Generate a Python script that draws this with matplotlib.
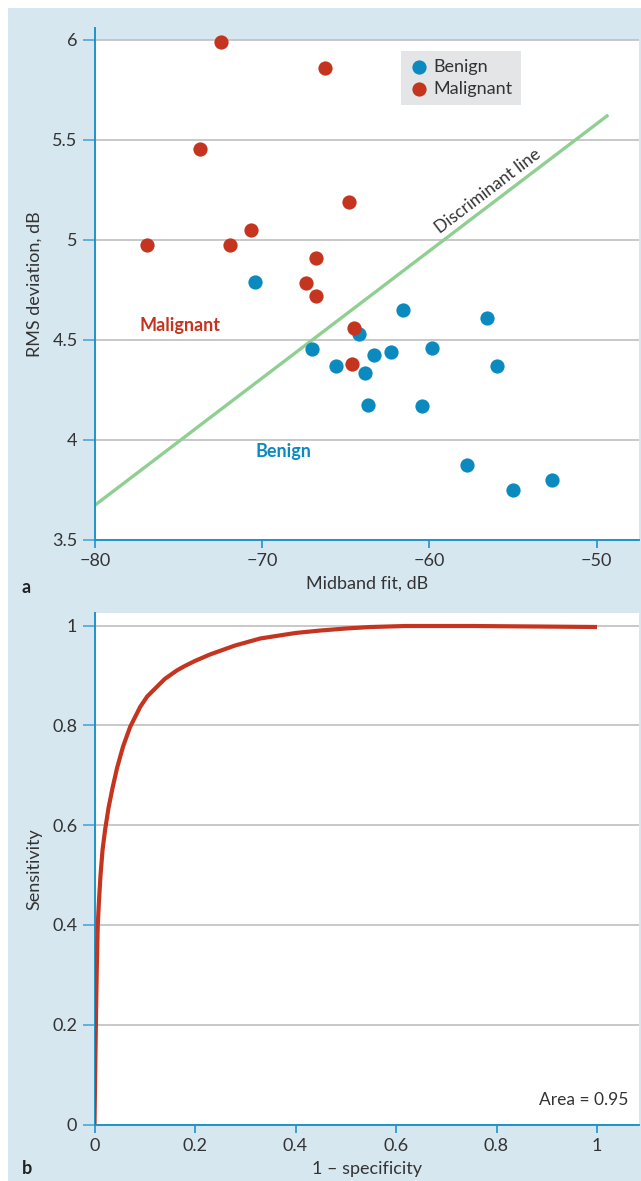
import matplotlib
matplotlib.use("Agg")
import matplotlib.pyplot as plt
import numpy as np

plt.rcParams['font.family'] = ['Lato', 'DejaVu Sans']

# ---- Data panel a ----
benign_x = [-70.43, -61.56, -64.19, -67.0, -65.6, -63.33, -62.28, -59.84, -63.85,
            -63.65, -60.46, -56.54, -55.94, -57.73, -54.98, -52.65]
benign_y = [4.79, 4.65, 4.528, 4.455, 4.368, 4.425, 4.437, 4.457, 4.333,
            4.174, 4.168, 4.61, 4.37, 3.872, 3.75, 3.797]
malig_x = [-72.48, -73.74, -76.87, -71.93, -70.69, -66.24, -64.81, -66.8, -67.4,
           -66.76, -64.49, -64.61]
malig_y = [5.99, 5.457, 4.974, 4.974, 5.049, 5.86, 5.19, 4.91, 4.785,
           4.72, 4.557, 4.38]
disc_x = [-80.0, -49.3]
disc_y = [3.673, 5.625]
xticks_a = [-80, -70, -60, -50]
yticks_a = [3.5, 4, 4.5, 5, 5.5, 6]
xticklabels_a = ['\u221280', '\u221270', '\u221260', '\u221250']
yticklabels_a = ['3.5', '4', '4.5', '5', '5.5', '6']

# ---- Data panel b (ROC) ----
fpr = [0.0, 0.001, 0.002, 0.003, 0.0045, 0.0065, 0.009, 0.012, 0.016, 0.021, 0.028,
       0.036, 0.045, 0.057, 0.071, 0.091, 0.105, 0.124, 0.14, 0.164, 0.18, 0.2, 0.23,
       0.28, 0.33, 0.40, 0.45, 0.50, 0.55, 0.62, 0.75, 0.88, 1.0]
tpr = [0.0, 0.08, 0.15, 0.22, 0.31, 0.40, 0.45, 0.50, 0.55, 0.59, 0.635,
       0.675, 0.715, 0.758, 0.797, 0.837, 0.858, 0.877, 0.893, 0.91, 0.919, 0.929, 0.942,
       0.960, 0.974, 0.985, 0.990, 0.994, 0.997, 0.999, 0.999, 0.998, 0.997]
xticks_b = [0, 0.2, 0.4, 0.6, 0.8, 1]
yticks_b = [0, 0.2, 0.4, 0.6, 0.8, 1]
ticklabels_b = ['0', '0.2', '0.4', '0.6', '0.8', '1']

BG = '#d7e7f0'
BLUE = '#0b8ac0'
RED = '#c4341f'
GREEN = '#8fd092'
AXBLUE = '#1e93cc'
GRID = '#bfbfbf'
TXT = '#333333'
FS = 13

W, H = 641, 1181
fig = plt.figure(figsize=(W / 100, H / 100), dpi=100)
fig.patch.set_facecolor('white')
fig.patches.append(plt.Rectangle((8 / W, 0), 1 - 8 / W, 1 - 8 / H, transform=fig.transFigure,
                                 facecolor=BG, edgecolor='none', zorder=-10))


def style(ax):
    for s in ['top', 'right']:
        ax.spines[s].set_visible(False)
    for s in ['left', 'bottom']:
        ax.spines[s].set_color(AXBLUE)
        ax.spines[s].set_linewidth(1.4)
    ax.tick_params(axis='y', direction='out', length=9, width=1.2, color='#4aa7d6',
                   labelsize=FS, labelcolor=TXT, pad=3.5)
    ax.tick_params(axis='x', direction='out', length=5.5, width=1.2, color=AXBLUE,
                   labelsize=FS, labelcolor=TXT, pad=4)
    ax.yaxis.grid(True, color=GRID, linewidth=1.2)
    ax.set_axisbelow(True)


# ---- Panel a ----
ax1 = fig.add_axes([95 / W, 1 - 539.7 / H, 544 / W, 511.4 / H])
ax1.set_facecolor(BG)
ax1.set_xlim(-80, -80 + 544 / 16.72)
ax1.set_ylim(3.5, 6 + 11.7 / 200)
ax1.axhspan(3.5, 6.0, color='white', zorder=-5, lw=0)
style(ax1)
ax1.set_xticks(xticks_a)
ax1.set_xticklabels(xticklabels_a)
ax1.set_yticks(yticks_a)
ax1.set_yticklabels(yticklabels_a)
ax1.plot(disc_x, disc_y, color=GREEN, lw=2.4, solid_capstyle='butt', zorder=2)
ax1.scatter(benign_x, benign_y, s=105, color=BLUE, zorder=3, linewidths=0, label='Benign')
ax1.scatter(malig_x, malig_y, s=105, color=RED, zorder=3, linewidths=0, label='Malignant')
ax1.text(-56.5, 5.245, 'Discriminant line', rotation=37.3, rotation_mode='anchor',
         ha='center', va='center', fontsize=12.5, color=TXT)
ax1.text(-74.9, 4.57, 'Malignant', ha='center', va='center', fontsize=13,
         fontweight='bold', color=RED)
ax1.text(-68.7, 3.94, 'Benign', ha='center', va='center', fontsize=13,
         fontweight='bold', color=BLUE)
leg = ax1.legend(loc='upper left', bbox_to_anchor=((401 - 95) / 544, (539.7 - 51) / 511.4),
                 frameon=True, fancybox=False, facecolor='#e4e5e7', edgecolor='none',
                 framealpha=1, fontsize=FS, handletextpad=0.25, borderpad=0.45,
                 labelspacing=0.3, handlelength=1.1, borderaxespad=0, markerscale=1.0)
for t in leg.get_texts():
    t.set_color(TXT)
ax1.set_xlabel('Midband fit, dB', fontsize=FS, color=TXT, labelpad=5)
ax1.set_ylabel('RMS deviation, dB', fontsize=FS, color=TXT, labelpad=7)
fig.text(22 / W, 1 - 587 / H, 'a', fontsize=FS, fontweight='bold', color='#222222',
         ha='left', va='center')

# ---- Panel b ----
ax2 = fig.add_axes([94.5 / W, 1 - 1124.5 / H, 544.5 / W, 511.2 / H])
ax2.set_facecolor('white')
ax2.set_xlim(0, 544.5 / 502.5)
ax2.set_ylim(0, 1 + 12.2 / 499)
style(ax2)
ax2.set_xticks(xticks_b)
ax2.set_xticklabels(ticklabels_b)
ax2.set_yticks(yticks_b)
ax2.set_yticklabels(ticklabels_b)
ax2.plot(fpr, tpr, color=RED, lw=3.0, solid_capstyle='butt', solid_joinstyle='round', zorder=3)
ax2.text(1.062, 0.049, 'Area = 0.95', ha='right', va='center', fontsize=12.5, color=TXT)
ax2.set_xlabel('1 \u2013 specificity', fontsize=FS, color=TXT, labelpad=5)
ax2.set_ylabel('Sensitivity', fontsize=FS, color=TXT, labelpad=7)
fig.text(22 / W, 1 - 1168 / H, 'b', fontsize=FS, fontweight='bold', color='#222222',
         ha='left', va='center')

fig.savefig('out.png', dpi=100)
